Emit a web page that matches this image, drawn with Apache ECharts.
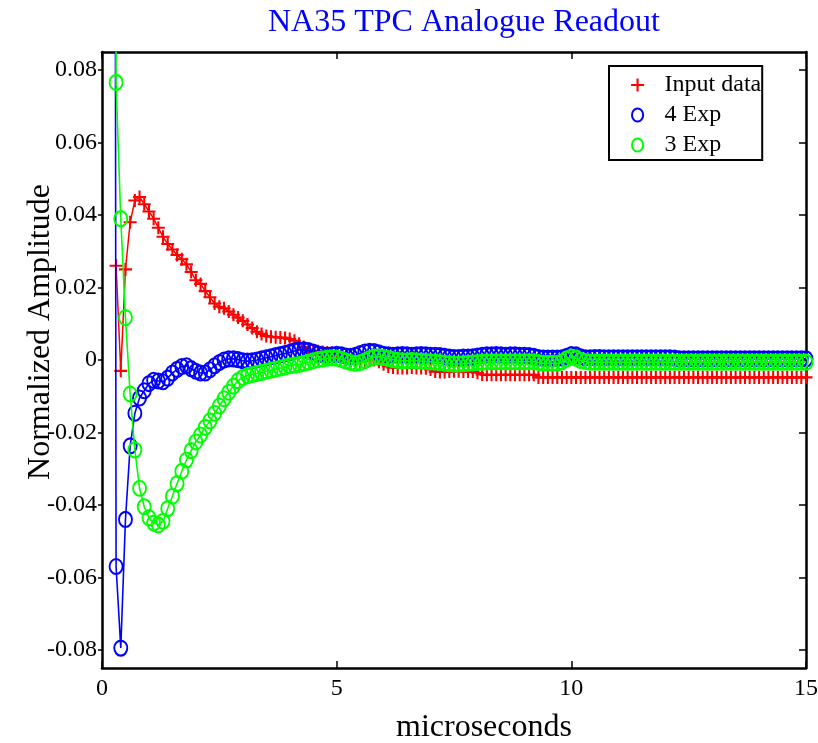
<!DOCTYPE html>
<html><head><meta charset="utf-8">
<script src="https://cdn.jsdelivr.net/npm/echarts@6/dist/echarts.min.js"></script>
<style>html,body{margin:0;padding:0;background:#fff}#c{width:818px;height:743px}</style>
</head><body><div id="c"></div>
<script>
// sample times (microseconds)
const times = [
  0.2,0.3,0.4,0.5,0.6,0.7,0.8,0.9,1.0,1.1,
  1.2,1.3,1.4,1.5,1.6,1.7,1.8,1.9,2.0,2.1,
  2.2,2.3,2.4,2.5,2.6,2.7,2.8,2.9,3.0,3.1,
  3.2,3.3,3.4,3.5,3.6,3.7,3.8,3.9,4.0,4.1,
  4.2,4.3,4.4,4.5,4.6,4.7,4.8,4.9,5.0,5.1,
  5.2,5.3,5.4,5.5,5.6,5.7,5.8,5.9,6.0,6.1,
  6.2,6.3,6.4,6.5,6.6,6.7,6.8,6.9,7.0,7.1,
  7.2,7.3,7.4,7.5,7.6,7.7,7.8,7.9,8.0,8.1,
  8.2,8.3,8.4,8.5,8.6,8.7,8.8,8.9,9.0,9.1,
  9.2,9.3,9.4,9.5,9.6,9.7,9.8,9.9,10.0,10.1,
  10.2,10.3,10.4,10.5,10.6,10.7,10.8,10.9,11.0,11.1,
  11.2,11.3,11.4,11.5,11.6,11.7,11.8,11.9,12.0,12.1,
  12.2,12.3,12.4,12.5,12.6,12.7,12.8,12.9,13.0,13.1,
  13.2,13.3,13.4,13.5,13.6,13.7,13.8,13.9,14.0,14.1,
  14.2,14.3,14.4,14.5,14.6,14.7,14.8,14.9,15.0
];
// Input data (red crosses)
const inputData = [
  null,0.026,-0.003,0.025,0.038,0.044,0.045,0.043,0.041,0.039,
  0.0365,0.034,0.032,0.0305,0.029,0.0278,0.0264,0.0243,0.022,0.021,
  0.019,0.0173,0.0156,0.0147,0.0143,0.0134,0.0125,0.0117,0.0108,0.0098,
  0.0088,0.0078,0.0072,0.0066,0.0064,0.0063,0.0062,0.0061,0.0058,0.0053,
  0.0045,0.0036,0.0029,0.0025,0.0024,0.0022,0.0021,0.0019,0.0015,0.0008,
  0.0002,-0.0003,-0.0005,-0.0005,-0.0002,0.0000,0.0000,-0.0005,-0.0012,-0.0018,
  -0.0021,-0.0022,-0.0022,-0.0022,-0.0021,-0.0022,-0.0022,-0.0023,-0.0026,-0.0032,
  -0.0033,-0.0033,-0.0032,-0.0031,-0.0031,-0.0032,-0.0032,-0.0032,-0.0035,-0.0040,
  -0.0041,-0.0041,-0.0041,-0.0041,-0.0041,-0.0041,-0.0041,-0.0041,-0.0041,-0.0041,
  -0.0041,-0.0048,-0.0048,-0.0048,-0.0048,-0.0048,-0.0048,-0.0048,-0.0048,-0.0048,
  -0.0048,-0.0048,-0.0048,-0.0048,-0.0048,-0.0048,-0.0048,-0.0048,-0.0048,-0.0048,
  -0.0048,-0.0048,-0.0048,-0.0048,-0.0048,-0.0048,-0.0048,-0.0048,-0.0048,-0.0048,
  -0.0048,-0.0048,-0.0048,-0.0048,-0.0048,-0.0048,-0.0048,-0.0048,-0.0048,-0.0048,
  -0.0048,-0.0048,-0.0048,-0.0048,-0.0048,-0.0048,-0.0048,-0.0048,-0.0048,-0.0048,
  -0.0048,-0.0048,-0.0048,-0.0048,-0.0048,-0.0048,-0.0048,-0.0048,-0.0048
];
// 4-exponential fit (blue circles)
const fit4Exp = [
  1.0,-0.057,-0.0795,-0.044,-0.0237,-0.0147,-0.0105,-0.0085,-0.0065,-0.0056,
  -0.0058,-0.0060,-0.0050,-0.0036,-0.0026,-0.0018,-0.0016,-0.0024,-0.0031,-0.0036,
  -0.0036,-0.0027,-0.0016,-0.0007,0.0000,0.0003,0.0003,0.0001,-0.0002,-0.0003,
  -0.0002,0.0000,0.0003,0.0006,0.0009,0.0012,0.0015,0.0018,0.0021,0.0025,
  0.0028,0.0028,0.0026,0.0022,0.0017,0.0014,0.0013,0.0014,0.0016,0.0014,
  0.0011,0.0010,0.0013,0.0018,0.0022,0.0024,0.0023,0.0020,0.0016,0.0014,
  0.0013,0.0014,0.0015,0.0014,0.0013,0.0014,0.0015,0.0014,0.0013,0.0013,
  0.0012,0.0010,0.0008,0.0007,0.0007,0.0008,0.0008,0.0009,0.0011,0.0013,
  0.0014,0.0014,0.0015,0.0014,0.0013,0.0014,0.0014,0.0013,0.0013,0.0012,
  0.0010,0.0007,0.0005,0.0005,0.0005,0.0005,0.0006,0.0010,0.0015,0.0014,
  0.0009,0.0006,0.0006,0.0007,0.0007,0.0006,0.0006,0.0006,0.0006,0.0006,
  0.0006,0.0006,0.0006,0.0006,0.0006,0.0006,0.0006,0.0006,0.0006,0.0006,
  0.0005,0.0003,0.0003,0.0003,0.0003,0.0003,0.0003,0.0003,0.0003,0.0003,
  0.0003,0.0003,0.0003,0.0003,0.0003,0.0003,0.0003,0.0003,0.0003,0.0003,
  0.0003,0.0003,0.0003,0.0003,0.0003,0.0003,0.0003,0.0003,0.0003
];
// 3-exponential fit (green circles)
const fit3Exp = [
  1.0,0.0766,0.039,0.0117,-0.0094,-0.0248,-0.0354,-0.0405,-0.0435,-0.0450,
  -0.0455,-0.0445,-0.0410,-0.0376,-0.0341,-0.0307,-0.0276,-0.0250,-0.0226,-0.0207,
  -0.0186,-0.0168,-0.0147,-0.0127,-0.0107,-0.0089,-0.0072,-0.0057,-0.0048,-0.0043,
  -0.0040,-0.0037,-0.0034,-0.0031,-0.0028,-0.0025,-0.0022,-0.0019,-0.0016,-0.0014,
  -0.0012,-0.0009,-0.0006,-0.0002,0.0001,0.0003,0.0005,0.0006,0.0005,0.0002,
  -0.0003,-0.0007,-0.0009,-0.0007,-0.0002,0.0004,0.0008,0.0009,0.0007,0.0004,
  0.0001,-0.0001,-0.0002,-0.0002,-0.0001,-0.0002,-0.0003,-0.0004,-0.0005,-0.0006,
  -0.0007,-0.0009,-0.0010,-0.0011,-0.0011,-0.0010,-0.0009,-0.0008,-0.0007,-0.0006,
  -0.0005,-0.0005,-0.0005,-0.0005,-0.0005,-0.0005,-0.0005,-0.0005,-0.0005,-0.0005,
  -0.0005,-0.0007,-0.0009,-0.0009,-0.0009,-0.0009,-0.0005,0.0003,0.0008,0.0005,
  -0.0001,-0.0004,-0.0006,-0.0006,-0.0006,-0.0006,-0.0006,-0.0006,-0.0006,-0.0006,
  -0.0006,-0.0006,-0.0006,-0.0006,-0.0006,-0.0006,-0.0006,-0.0006,-0.0006,-0.0006,
  -0.0006,-0.0006,-0.0006,-0.0006,-0.0006,-0.0006,-0.0006,-0.0006,-0.0006,-0.0006,
  -0.0006,-0.0006,-0.0006,-0.0006,-0.0006,-0.0006,-0.0006,-0.0006,-0.0006,-0.0006,
  -0.0006,-0.0006,-0.0006,-0.0006,-0.0006,-0.0006,-0.0006,-0.0006,-0.0006
];
const yTicks = [-0.08,-0.06,-0.04,-0.02,0,0.02,0.04,0.06,0.08];
const xTicks = [0,5,10,15];
const seriesNames = ['Input data','4 Exp','3 Exp'];

const FONT = '"Liberation Serif", "Times New Roman", serif';
const crossPath = 'path://M-0.16,-1L0.16,-1L0.16,-0.16L1,-0.16L1,0.16L0.16,0.16L0.16,1L-0.16,1L-0.16,0.16L-1,0.16L-1,-0.16L-0.16,-0.16Z';
const ellipsePath = 'path://M0,-7A6,7,0,1,1,0,7A6,7,0,1,1,0,-7Z';
const pair = ys => times.map((t, i) => [t, ys[i]]);
const lineCol = '#000';

const axisLineStyle = {show: true, onZero: false, lineStyle: {color: lineCol, width: 2.5}};
const yFmt = v => (Math.abs(v) < 1e-12 ? '0' : v.toFixed(2));

const chart = echarts.init(document.getElementById('c'), null, {renderer: 'canvas'});
chart.setOption({
  animation: false,
  backgroundColor: '#fff',
  title: {
    text: 'NA35 TPC Analogue Readout', left: 263, top: 2,
    textStyle: {fontFamily: FONT, fontWeight: 'normal', fontSize: 32, color: '#0000ff'}
  },
  grid: {left: 102, right: 12, top: 52, bottom: 75, outerBoundsMode: 'none', containLabel: false},
  legend: {
    orient: 'vertical', left: 609, top: 66,
    itemGap: 6, itemWidth: 44, itemHeight: 13,
    padding: [7, 1, 3, 22],
    borderColor: '#000', borderWidth: 2, backgroundColor: '#fff',
    symbolKeepAspect: true,
    textStyle: {fontFamily: FONT, fontSize: 24, color: '#000'},
    data: [
      {name: seriesNames[0], icon: crossPath, itemStyle: {color: '#ff0000', borderWidth: 0}},
      {name: seriesNames[1], icon: ellipsePath, itemStyle: {color: 'rgba(0,0,0,0)', borderColor: '#0000ff', borderWidth: 2}},
      {name: seriesNames[2], icon: ellipsePath, itemStyle: {color: 'rgba(0,0,0,0)', borderColor: '#00ff00', borderWidth: 2}}
    ]
  },
  xAxis: [
    {
      type: 'value', min: 0, max: 15, interval: 5, position: 'bottom',
      axisLine: axisLineStyle,
      axisTick: {inside: true, length: 7, lineStyle: {color: lineCol, width: 1.5}, customValues: xTicks},
      axisLabel: {fontFamily: FONT, fontSize: 24, color: '#000', margin: 9, customValues: xTicks},
      splitLine: {show: false},
      name: 'microseconds', nameLocation: 'middle', nameGap: 44, nameMoveOverlap: false,
      nameTextStyle: {fontFamily: FONT, fontSize: 32, color: '#000', padding: [0, 0, 0, 60]}
    },
    {
      type: 'value', min: 0, max: 15, interval: 5, position: 'top',
      axisLine: axisLineStyle,
      axisTick: {inside: true, length: 7, lineStyle: {color: lineCol, width: 1.5}, customValues: xTicks},
      axisLabel: {show: false}, splitLine: {show: false}
    }
  ],
  yAxis: [
    {
      type: 'value', min: -0.085, max: 0.085, position: 'left',
      axisLine: axisLineStyle,
      axisTick: {inside: false, length: 4, lineStyle: {color: lineCol, width: 1.5}, customValues: yTicks},
      axisLabel: {fontFamily: FONT, fontSize: 24, color: '#000', margin: 5, customValues: yTicks, formatter: yFmt},
      splitLine: {show: false},
      name: 'Normalized Amplitude', nameLocation: 'middle', nameGap: 45, nameMoveOverlap: false,
      nameTextStyle: {fontFamily: FONT, fontSize: 32, color: '#000', padding: [0, 0, 0, 56]}
    },
    {
      type: 'value', min: -0.085, max: 0.085, position: 'right',
      axisLine: axisLineStyle,
      axisTick: {inside: true, length: 7, lineStyle: {color: lineCol, width: 1.5}, customValues: yTicks},
      axisLabel: {show: false}, splitLine: {show: false}
    }
  ],
  series: [
    {
      name: seriesNames[0], type: 'line', data: pair(inputData),
      symbol: crossPath, symbolSize: 13,
      itemStyle: {color: '#ff0000'},
      lineStyle: {color: '#ff0000', width: 1.5},
      clip: true, z: 2
    },
    {
      name: seriesNames[1], type: 'line', data: pair(fit4Exp),
      symbol: ellipsePath, symbolSize: [13, 15],
      itemStyle: {color: 'rgba(0,0,0,0)', borderColor: '#0000ff', borderWidth: 2},
      lineStyle: {color: '#0000ff', width: 1.6},
      clip: true, z: 3
    },
    {
      name: seriesNames[2], type: 'line', data: pair(fit3Exp),
      symbol: ellipsePath, symbolSize: [13, 15],
      itemStyle: {color: 'rgba(0,0,0,0)', borderColor: '#00ff00', borderWidth: 2},
      lineStyle: {color: '#00ff00', width: 1.6},
      clip: true, z: 4
    }
  ]
});
</script></body></html>
